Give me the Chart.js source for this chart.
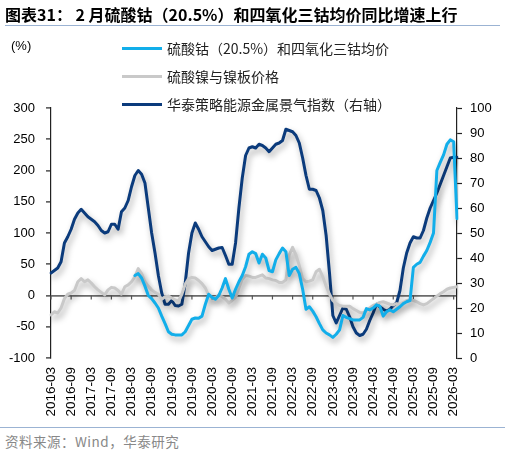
<!DOCTYPE html>
<html>
<head>
<meta charset="utf-8">
<script src="https://cdn.jsdelivr.net/npm/chart.js@4.4.1/dist/chart.umd.min.js"></script>
<style>
  body { margin: 0; background: #fff; width: 505px; height: 455px; position: relative; overflow: hidden; }
  #title { position: absolute; left: 5px; top: 4px; width: 495px; font: bold 16px "Noto Sans CJK SC", sans-serif; color: #000; line-height: 20px; border-bottom: 1.5px solid #9bb3d3; padding-bottom: 1px; white-space: nowrap; }
  #wrap { position: absolute; left: 0; top: 0; width: 505px; height: 425px; }
  #unit { position: absolute; left: 11px; top: 38px; font: 13px "Liberation Sans", Arial, sans-serif; color: #000; }
  #legend { position: absolute; left: 122px; top: 34px; }
  .row { height: 28px; display: flex; align-items: center; font: 14px "Noto Sans CJK SC", sans-serif; color: #222; }
  .row span.ln { display: inline-block; width: 40px; height: 3px; margin-right: 5px; }
  #foot { position: absolute; left: 0; top: 427px; width: 505px; border-top: 1.5px solid #9bb3d3; }
  #foot div { padding: 3px 0 0 5px; font: 13.5px "Noto Sans CJK SC", sans-serif; color: #888; letter-spacing: 0.5px; }
</style>
</head>
<body>
<div id="wrap"><canvas id="grafica"></canvas></div>
<div id="title">图表31：&nbsp;2 月硫酸钴（20.5%）和四氧化三钴均价同比增速上行</div>
<div id="unit">(%)</div>
<div id="legend"></div>
<div id="foot"><div>资料来源：Wind，华泰研究</div></div>
<script>
// months 2016-03 .. 2026-04
var meses = [];
for (var a = 2016; a <= 2026; a++) {
  for (var m = 1; m <= 12; m++) {
    if (a == 2016 && m < 3) continue;
    if (a == 2026 && m > 4) continue;
    meses.push(a + '-' + (m < 10 ? '0' + m : m));
  }
}

var nombres = ['硫酸钴（20.5%）和四氧化三钴均价', '硫酸镍与镍板价格', '华泰策略能源金属景气指数（右轴）'];

var cobalto = [
  null, null, null, null, null, null, null, null, null, null,
  null, null, null, null, null, null, null, null, null, null,
  null, null, null, null, null, 32, 35, 28, 15, 0,
  -5, -12, -20, -33, -45, -58, -62, -63, -63, -63,
  -58, -48, -38, -36, -36.5, -33, -14, 2, -3, -6,
  0, 12, 27, 10, -4, 10, 22, 32, 46, 66,
  70, 67, 52, 66, 60, 40, 38, 57, 67, 76,
  70, 32, 42, 45, 35, 10, -22, -18, -25, -34,
  -45, -55, -60, -63, -67, -62, -55, -32, -35, -37,
  -39, -39, -39, -35, -21, -23, -20, -15, -17, -33,
  -26, -23, -26, -22, -18, -13, -10, -8, 45, 50,
  53, 63, 72, 85, 100, 200, 213, 225, 242, 249,
  246, 123
];

var niquel = [
  -31, -26, -28, -20, -5, 2, 4, 8, 22, 27,
  22, 25, 20, 14, 9, 5, 1, 9, 13, 12,
  8, 2, 14, 17, 22, 30, 43, 35, 22, 15,
  9, 5, 2, -6, -2, -1, -4, -7, -9, 2,
  18, 27, 29, 28, 24, 19, 12, 0, -3, -4,
  1, -2, -6, -12, -8, -3, 12, 26, 32, 31,
  29, 29, 31, 33, 28, 27, 25, 24, 21, 21,
  25, 65, 77, 65, 48, 27, 22, 23, 25, 38,
  42, 30, 15, 2, -8, -13, -16, -17, -17, -17,
  -21, -24, -27, -28, -24, -20, -16, -14, -11, -10,
  -12, -14, -15, -13, -14, -11, -8, -7, -8, -10,
  -13, -15, -13, -9, -5, -1, 3, 6, 10, 12,
  13, 14
];

var indice = [
  34, 35, 36, 38.5, 46, 48.5, 51.5, 55.5, 58, 59.5,
  58, 56.5, 55.5, 54.5, 53, 51, 50, 50.5, 53.5, 53.5,
  51.5, 58.5, 60, 63, 68.5, 73, 75, 73.5, 70, 60,
  50, 42, 33, 26, 21.5, 21.5, 23, 21, 20.8, 21.5,
  30, 42, 50, 54, 51.5, 48.5, 46.5, 44.5, 43, 43.5,
  44, 44.2, 41, 37.5, 37.5, 46, 60, 72, 81, 84,
  84.5, 84, 85.5, 85, 84, 82.5, 84, 85.5, 86, 87,
  91.5, 91, 90.5, 89, 86, 80, 73, 67.5, 67.5, 67,
  64, 59, 49, 34, 17, 14, 17, 20, 19.5, 16.5,
  12.5, 10, 9, 9.5, 11.5, 15, 18, 21.5, 20.5, 19.5,
  18.8, 19.5, 21, 22, 27, 36, 42, 46, 48.5, 48,
  48, 51, 56, 60, 63, 66, 69.5, 73, 76.5, 80,
  80.3, 80.3
];

var colores = ['#12aeea', '#c9c9c9', '#0b3b7c'];

// html legend
var leyenda = document.getElementById('legend');
nombres.forEach(function(n, i){
  leyenda.innerHTML += '<div class="row"><span class="ln" style="background:' + colores[i] + '"></span>' + n + '</div>';
});

var sombra = {
  id: 'sombra',
  beforeDatasetDraw: function(chart){
    var c = chart.ctx;
    c.save();
    c.shadowColor = 'rgba(0,0,0,0.35)';
    c.shadowBlur = 6;
    c.shadowOffsetX = 2;
    c.shadowOffsetY = 4;
  },
  afterDatasetDraw: function(chart){ chart.ctx.restore(); }
};

var marcas = {
  id: 'marcas',
  beforeDatasetsDraw: function(chart){
    var c = chart.ctx, sx = chart.scales.x, y0 = chart.scales.y.getPixelForValue(0);
    c.save();
    c.strokeStyle = '#555';
    c.lineWidth = 1.2;
    for (var i = 0; i < meses.length; i += 6) {
      var px = sx.getPixelForValue(i);
      c.beginPath(); c.moveTo(px, y0); c.lineTo(px, y0 + 4); c.stroke();
    }
    c.restore();
  }
};

Chart.defaults.font.family = '"Liberation Sans", Arial, sans-serif';
Chart.defaults.font.size = 13;
Chart.defaults.color = '#000';

var ctx = document.getElementById('grafica').getContext('2d');
var chart = new Chart(ctx, {
  type: 'line',
  data: {
    labels: meses,
    datasets: [
      { label: nombres[0], data: cobalto, borderColor: colores[0], yAxisID: 'y' },
      { label: nombres[1], data: niquel, borderColor: colores[1], yAxisID: 'y' },
      { label: nombres[2], data: indice, borderColor: colores[2], yAxisID: 'y1' }
    ]
  },
  options: {
    responsive: true,
    maintainAspectRatio: false,
    animation: false,
    layout: { padding: { top: 108, left: 7, right: 8, bottom: 0 } },
    elements: {
      line: { borderWidth: 3, tension: 0, borderCapStyle: 'round', borderJoinStyle: 'round' },
      point: { radius: 0 }
    },
    plugins: { legend: { display: false }, tooltip: { enabled: false } },
    scales: {
      x: {
        grid: { display: false, drawTicks: false },
        border: { display: false },
        ticks: {
          autoSkip: false, minRotation: 90, maxRotation: 90, padding: 9,
          font: { size: 13.5 },
          callback: function(v, i){ return i % 6 == 0 && i <= 120 ? meses[i] : ''; }
        },
        afterFit: function(s){ s.height = 67; }
      },
      y: {
        position: 'left', min: -100, max: 300,
        ticks: { stepSize: 50, padding: 11 },
        grid: {
          color: function(c){ return c.tick && c.tick.value === 0 ? '#6b6b6b' : 'rgba(0,0,0,0)'; },
          lineWidth: 1.8, tickLength: 5, tickColor: '#222', tickWidth: 1.2
        },
        border: { color: '#222', width: 1.2 },
        afterFit: function(s){ s.width = 44; }
      },
      y1: {
        position: 'right', min: 0, max: 100,
        ticks: { stepSize: 10, padding: 8 },
        grid: { drawOnChartArea: false, tickLength: 5, tickColor: '#222', tickWidth: 1.2 },
        border: { color: '#222', width: 1.2 },
        afterFit: function(s){ s.width = 40; }
      }
    }
  },
  plugins: [sombra, marcas]
});
</script>
</body>
</html>
